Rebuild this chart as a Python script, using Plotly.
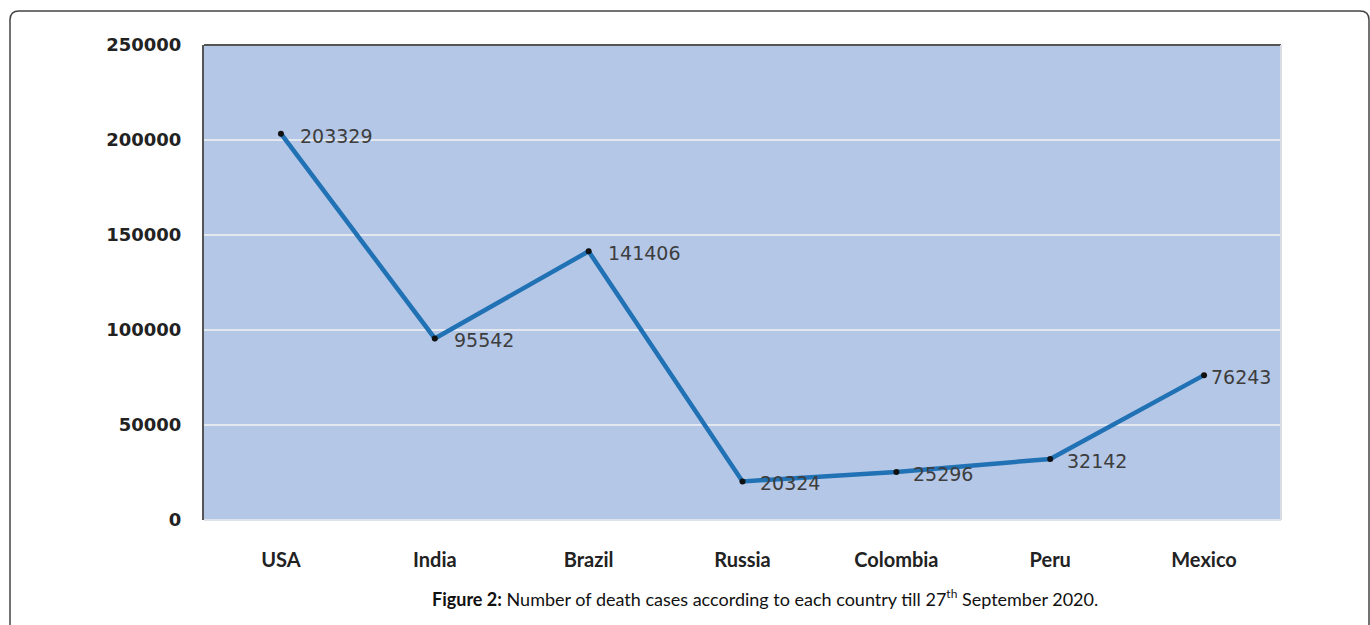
import plotly.graph_objects as go

# Deaths per country (till 27 Sep 2020)
countries = ["USA", "India", "Brazil", "Russia", "Colombia", "Peru", "Mexico"]
deaths = [203329, 95542, 141406, 20324, 25296, 32142, 76243]
label_shift = [17, 17, 17, 15, 15, 15, 5]

y_ticks = [0, 50000, 100000, 150000, 200000, 250000]

W, H = 1370, 625
L, R, T, B = 204, 89, 45, 105
PW, PH = W - L - R, H - T - B


def px(x, y):
    """Convert page pixels into paper coordinates."""
    return (x - L) / PW, (H - B - y) / PH


fig = go.Figure()
fig.add_trace(go.Scatter(
    x=countries, y=deaths, mode="lines+markers",
    line=dict(color="#2171b5", width=4.5),
    marker=dict(color="#111111", size=6),
    hoverinfo="skip", showlegend=False,
))

for c, v, s in zip(countries, deaths, label_shift):
    fig.add_annotation(
        x=c, y=v, text=str(v), showarrow=False, xanchor="left", yanchor="middle",
        xshift=s, yshift=-2,
        font=dict(family="DejaVu Sans", size=19, color="#3d3d3d"),
    )

# Caption below the chart
cx, cy = px(765, 598)
fig.add_annotation(
    xref="paper", yref="paper", x=cx, y=cy, xanchor="center", yanchor="middle",
    showarrow=False,
    text="<b>Figure 2:</b> Number of death cases according to each country till 27<sup><span style='font-size:12px'>th</span></sup> September 2020.",
    font=dict(family="Lato", size=18, color="#111111"),
)

# Rounded outer frame
r = 9
a = px(10, 640); b = px(10, 11 + r); c = px(10 + r, 11)
d = px(1369 - r, 11); e = px(1369, 11 + r); f = px(1369, 640)
k1 = px(10, 11); k2 = px(1369, 11)
path = (f"M {a[0]},{a[1]} L {b[0]},{b[1]} Q {k1[0]},{k1[1]} {c[0]},{c[1]} "
        f"L {d[0]},{d[1]} Q {k2[0]},{k2[1]} {e[0]},{e[1]} L {f[0]},{f[1]}")
fig.add_shape(type="path", xref="paper", yref="paper", path=path,
              line=dict(color="#444444", width=1.5), layer="above")

# Plot-area edges: dark top and left, soft right and bottom
fig.add_shape(type="line", xref="paper", yref="paper", x0=0, x1=1, y0=1, y1=1,
              line=dict(color="#555555", width=2), layer="above")
fig.add_shape(type="line", xref="paper", yref="paper", x0=1, x1=1, y0=0, y1=1,
              line=dict(color="#d9dde3", width=2), layer="above")
fig.add_shape(type="line", xref="paper", yref="paper", x0=0, x1=1, y0=0, y1=0,
              line=dict(color="#dde3ea", width=2), layer="above")

fig.update_layout(
    width=W, height=H,
    margin=dict(l=L, r=R, t=T, b=B),
    paper_bgcolor="white",
    plot_bgcolor="#b4c7e7",
    xaxis=dict(
        type="category", range=[-0.5, 6.5], showgrid=False, zeroline=False,
        ticks="outside", ticklen=22, tickcolor="rgba(0,0,0,0)",
        tickfont=dict(family="Lato", size=20, color="#222222", weight="bold"),
        showline=False, fixedrange=True,
    ),
    yaxis=dict(
        range=[0, 250000], tickvals=y_ticks, ticktext=[str(t) for t in y_ticks],
        showgrid=True, gridcolor="#e3e8ee", gridwidth=1.5, zeroline=False,
        ticks="outside", ticklen=17, tickcolor="rgba(0,0,0,0)",
        tickfont=dict(family="DejaVu Sans", size=18, color="#222222", weight="bold"),
        showline=True, linecolor="#555555", linewidth=2, fixedrange=True,
    ),
)

fig.write_html("out.html")
